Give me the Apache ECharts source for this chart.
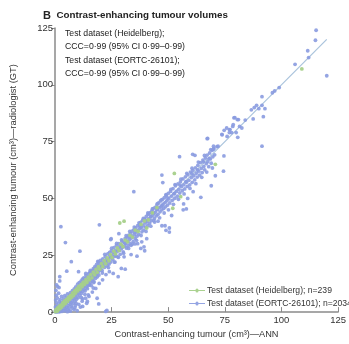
<!DOCTYPE html>
<html><head><meta charset="utf-8">
<script src="https://cdn.jsdelivr.net/npm/echarts@6/dist/echarts.min.js"></script>
<style>html,body{margin:0;padding:0;background:#fff}#c{width:349px;height:344px}</style>
</head><body><div id="c"></div>
<script>
var xTicks = [0, 25, 50, 75, 100, 125];
var yTicks = [0, 25, 50, 75, 100, 125];
var legendNames = ['Test dataset (Heidelberg); n=239', 'Test dataset (EORTC-26101); n=2034'];
var annotationLines = ['Test dataset (Heidelberg);', 'CCC=0·99 (95% CI 0·99–0·99)', 'Test dataset (EORTC-26101);', 'CCC=0·99 (95% CI 0·99–0·99)'];
var identityLine = [[0, 0], [120, 120]];

var eortcBandLow = [[0.3,0.8],[0.5,2.4],[0.6,4.1],[0.8,0.2],[1.0,6.2],[1.1,1.5],[1.3,3.2],[1.4,0.4],[1.6,8.3],[1.7,2.0],[1.9,4.6],[2.0,0.9],[2.2,2.9],[2.3,5.5],[2.5,1.2],[2.6,3.8],[2.8,0.5],[2.9,6.9],[3.1,2.4],[3.2,4.3],[3.4,1.6],[3.5,3.0],[3.7,5.8],[3.8,0.7],[4.0,4.9],[4.1,2.6],[4.3,7.2],[4.4,3.3],[4.6,1.4],[4.7,5.4],[4.9,3.9],[5.0,6.6],[5.2,2.1],[5.3,4.5],[5.5,8.0],[5.6,5.1],[5.8,3.0],[5.9,6.2],[6.1,1.8],[6.2,4.7],[6.4,7.3],[6.5,5.6],[6.7,3.5],[6.8,8.6],[7.0,6.4],[7.1,4.2],[7.3,2.6],[7.4,7.6],[7.6,5.3],[7.7,9.4],[7.9,6.8],[8.0,3.9],[8.2,8.1],[8.3,5.9],[8.5,10.2],[8.6,7.4],[8.8,4.8],[8.9,9.0],[9.1,6.5],[9.2,11.1],[9.4,8.3],[9.5,5.7],[9.7,10.0],[9.8,7.7],[10.0,12.3],[10.1,9.2],[10.3,6.4],[10.4,11.0],[10.6,8.6],[10.7,13.0],[10.9,10.1],[11.0,7.4],[11.2,11.9],[11.3,9.5],[11.5,13.6],[11.6,8.2],[11.8,12.4],[11.9,10.6],[12.1,14.5],[12.2,9.1],[12.4,12.8],[12.5,11.2],[12.7,15.1],[12.8,10.0],[13.0,13.5],[13.1,11.6],[13.3,9.4],[13.4,14.8],[13.6,12.3],[13.7,16.2],[13.9,11.0],[14.0,14.1],[14.2,12.7],[14.3,10.3],[14.5,15.6],[14.6,13.4],[14.8,11.8],[14.9,16.9],[15.1,14.2],[15.2,12.0],[15.4,17.5],[15.5,15.0],[15.7,13.1],[15.8,16.4],[16.0,11.7],[16.1,18.0],[16.3,15.3],[16.4,13.8],[16.6,17.2],[16.7,14.6],[16.9,19.1],[17.0,16.2],[17.2,13.4],[17.3,18.5],[17.5,15.8],[17.6,20.0],[17.8,17.1],[17.9,14.9],[18.1,19.4],[18.2,16.6],[18.4,21.0],[18.5,18.0],[18.7,15.5],[18.8,20.2],[19.0,17.4],[19.1,22.1],[19.3,19.0],[19.4,16.3],[19.6,21.3],[19.7,18.4],[19.9,20.1],[20.0,22.8],
[3.0,0.3],[4.5,0.6],[6.0,0.9],[7.5,1.8],[9.0,2.9],[10.5,3.4],[12.0,4.8],[13.5,6.1],[15.0,6.9],[16.5,8.8],[18.0,10.4],[6.8,0.4],[8.4,1.1],[11.2,2.2],[14.0,3.9],[19.5,12.6],[21.0,14.2],[22.5,16.5],[24.0,17.8],[9.8,0.6],[2.0,0.1],[1.2,0.1],[0.2,0.1],[0.4,0.3],[5.5,0.2],[8.8,1.9],[13.2,7.8],[16.9,10.6],[11.7,6.4],[0.2,2.2],[0.3,5.3],[0.5,7.4],[0.4,9.6],[1.2,11.2]];

var eortcBandMid = [[20.2,19.1],[20.5,21.6],[20.8,18.3],[21.1,23.4],[21.3,20.5],[21.6,22.2],[21.9,19.7],[22.2,24.5],[22.4,21.6],[22.7,23.3],[23.0,20.4],[23.3,25.6],[23.5,22.8],[23.8,21.1],[24.1,26.3],[24.4,23.9],[24.6,22.0],[24.9,27.0],[25.2,24.7],[25.5,23.1],[25.7,26.2],[26.0,28.4],[26.3,24.5],[26.6,27.1],[26.8,25.0],[27.1,29.3],[27.4,26.6],[27.7,24.3],[27.9,28.0],[28.2,30.1],[28.5,27.2],[28.8,25.4],[29.0,29.6],[29.3,27.9],[29.6,31.2],[29.9,28.6],[30.1,26.5],[30.4,30.8],[30.7,29.0],[31.0,32.4],[31.2,30.1],[31.5,28.2],[31.8,33.0],[32.1,31.0],[32.3,29.2],[32.6,33.9],[32.9,31.8],[33.2,30.1],[33.4,34.5],[33.7,32.6],[34.0,35.6],[34.3,33.2],[34.5,31.0],[34.8,36.2],[35.1,34.0],[35.4,32.3],[35.6,37.1],[35.9,35.2],[36.2,33.4],[36.5,38.0],[36.7,35.9],[37.0,34.2],[37.3,38.6],[37.6,36.8],[37.8,39.5],[38.1,37.2],[38.4,35.3],[38.7,40.4],[38.9,38.0],[39.2,36.1],[39.5,41.0],[39.8,39.2],[40.0,37.4],[40.3,42.1],[40.6,39.8],[40.9,38.0],[41.1,43.0],[41.4,41.0],[41.7,39.1],[42.0,43.8],[42.2,41.9],[42.5,40.2],[42.8,44.6],[43.1,42.6],[43.3,45.5],[43.6,43.4],[43.9,41.2],[44.2,46.1],[44.4,44.0],[44.7,42.3],[45.0,47.2],[45.3,45.1],[45.5,43.0],[45.8,48.0],[46.1,46.0],[46.4,44.1],[46.6,48.9],[46.9,46.6],[47.2,45.0],[47.5,49.6],[47.7,47.5],[48.0,45.6],[48.3,50.4],[48.6,48.2],[48.8,46.3],[49.1,51.3],[49.4,49.0],[49.7,47.1],[50.0,52.2]];

var eortcBandExtra = [[15.6,18.4],[17.1,13.0],[18.9,22.3],[20.9,17.2],[22.0,25.4],[23.6,19.6],[25.0,28.1],[26.2,22.0],[27.2,30.2],[28.0,24.1],[29.4,31.8],[30.3,25.9],[31.4,33.6],[32.5,28.0],[33.0,35.5],[34.1,29.9],[35.0,37.4],[36.0,31.6],[37.1,39.3],[38.0,33.7],[39.0,41.2],[40.2,35.5],[41.0,43.6],[42.3,37.8],[43.0,45.4],[44.0,39.6],[45.2,47.7],[46.2,41.5],[47.0,49.4],[48.2,43.6],[49.0,51.7],[50.1,45.0],[51.2,54.0],[52.3,47.4],[53.0,56.1],[54.5,49.6],[55.6,58.5],[57.0,52.0],[58.2,61.0],[59.6,54.4],[60.5,63.3],[62.2,56.5],[63.3,66.0],[64.8,59.3],[66.0,68.9],[67.0,61.6],[68.8,71.5],[69.5,63.4],
[20.7,20.6],[22.9,22.1],[24.2,24.8],[26.4,25.9],[28.6,28.9],[30.9,30.3],[32.8,33.1],[35.2,35.0],[37.5,37.9],[39.9,40.6],[42.4,42.0],[44.9,45.3],[47.3,46.8],[49.8,50.3],[52.7,52.2],[55.2,55.9],[57.8,57.4],[60.4,60.9],[63.0,62.6],[65.5,66.1],[68.0,67.5]];

var eortcBandHigh = [[50.3,49.8],[50.7,48.0],[51.0,53.1],[51.4,51.0],[51.8,49.2],[52.1,54.3],[52.5,52.0],[52.9,50.1],[53.2,55.6],[53.6,53.1],[54.0,51.0],[54.3,56.4],[54.7,54.0],[55.1,52.4],[55.4,57.3],[55.8,55.2],[56.2,53.4],[56.5,58.6],[56.9,56.0],[57.3,54.2],[57.6,59.5],[58.0,57.1],[58.4,55.3],[58.7,60.4],[59.1,58.0],[59.5,56.0],[59.8,61.6],[60.2,59.2],[60.6,57.1],[60.9,62.4],[61.3,60.0],[61.7,58.2],[62.0,63.5],[62.4,61.1],[62.8,59.4],[63.1,64.6],[63.5,62.0],[63.9,60.3],[64.2,65.8],[64.6,63.2],[65.0,61.4],[65.3,66.9],[65.7,64.1],[66.1,62.6],[66.4,67.8],[66.8,65.3],[67.2,69.1],[67.5,66.2],[67.9,64.0],[68.3,70.0],[68.6,67.4],[69.0,65.5],[69.4,71.2],[69.7,68.3],[70.1,72.0],
[70.5,69.2],[71.5,72.8],[70.0,71.6],[72.0,73.0],[70.0,73.0],[73.7,78.2],[73.8,78.0],[74.7,80.0],[75.8,81.0],[76.0,77.3],[77.0,79.0],[77.0,80.3],[77.3,80.3],[78.5,81.7],[78.7,82.5],[79.0,85.5],[79.4,85.6],[80.0,79.0],[80.5,84.7],[80.7,76.9],[81.0,84.7],[81.5,81.7],[82.5,81.0],[84.0,84.5],[86.7,89.0],[87.5,85.0],[88.0,90.0],[89.0,91.0],[90.0,89.5],[91.4,94.8],[91.4,91.0],[92.0,86.0],[92.7,89.5],[96.0,96.5],[97.0,97.3],[99.0,98.8],[106.0,109.0],[111.6,115.0],[112.0,112.0],[115.0,119.6],[115.3,124.0],[120.0,104.0]];

var eortcOutliers = [[2.6,37.6],[19.6,38.4],[4.6,30.6],[11,26.8],[7.2,22.2],[5.2,18],[10.4,17.8],[13.6,17],[2.1,15.6],[2.1,13.7],[1.8,10.8],[15,12.2],[12.4,11.2],[18.6,6.1],[14.3,4.7],[12.2,2.5],[19.3,3.6],[22.9,0.7],[22.4,0.3],[3.6,3.5],[9.3,3.9],[14.7,7.6],[12.1,5.8],[0.7,12],[27.9,15.6],[29.3,19.2],[31,18.9],[26.5,22],[30.5,24.3],[25.7,17],[35.3,30],[38.3,30.9],[39.3,28.7],[28.2,34.5],[24.6,31.9],[24.8,32.3],[33.6,29.4],[36.5,30.1],[37.9,28],[40.5,32.3],[39.6,27],[33.6,25.3],[36.2,24.6],[34.8,53],[47.2,60.3],[47.6,57],[55,68.4],[60.8,69.4],[50.5,37],[48.6,38],[49,36],[50.5,35.2],[47.2,38],[45.5,40],[43.6,40.3],[56.6,45],[56.8,47.6],[58,45.4],[51.5,42.5],[61,53],[58.6,50],[64.4,50.5],[61.8,69],[67.2,76.3],[70.8,60],[69,55.6],[74.4,62],[74.6,68.7],[78,79],[41.5,43.2],[67.4,76.4],[91.4,73]];

var heidelbergBand = [[0.3,0.5],[0.6,1.2],[0.9,0.4],[1.2,1.8],[1.5,1.0],[1.9,2.6],[2.2,1.5],[2.6,3.1],[3.0,2.2],[3.4,4.0],[3.8,3.1],[4.2,4.9],[4.6,3.8],[5.1,5.6],[5.5,4.7],[6.0,6.6],[6.4,5.6],[6.9,7.4],[7.3,6.5],[7.8,8.5],[8.2,7.3],[8.7,9.3],[9.1,8.4],[9.6,10.2],[10.0,9.3],[10.5,11.3],[11.0,10.1],[11.5,12.0],[12.0,11.2],[12.5,13.2],[13.0,12.1],[13.6,14.3],[14.1,13.0],[14.7,15.4],[15.2,14.2],[15.8,16.5],[16.3,15.1],[16.9,17.6],[17.5,16.4],[18.1,18.8],[18.6,17.5],[19.2,20.0],[19.8,18.9],[20.5,21.3],[21.1,20.0],[21.8,22.6],[22.4,21.3],[23.1,23.9],[23.8,22.6],[24.5,25.3],[25.2,24.0],[26.0,26.8],[26.7,25.6],[27.5,28.3],[28.3,27.1],[29.1,29.9],[30.0,28.8],[31.0,31.7],[32.0,30.9],[33.1,33.8],[34.2,33.0],[35.4,36.1],[36.7,35.5],[38.0,38.6],[39.5,40.1],[41.2,40.6],[43.0,43.7],[45.0,46.0],
[0.2,0.2],[0.4,0.8],[0.8,0.9],[1.0,0.6],[1.4,1.6],[2.0,2.3],[2.8,2.6],[4.0,4.3],[5.8,5.9],[7.0,7.1],[9.0,9.4],[11.8,12.3],[13.8,13.6]];

var heidelbergOutliers = [[28.6,39.2],[30.5,40],[52.7,61],[55.5,50.8],[52,45.7],[70.8,65],[109,107],[40.5,37]];

var FONT = '"Liberation Sans", Arial, sans-serif';
var blue = '#8a9be0', green = '#a6d08a';
var icon = 'path://M0,2.5H6.5A1.5,1.5,0,1,1,9.5,2.5H16V3.5H9.5A1.5,1.5,0,1,1,6.5,3.5H0Z';

var chart = echarts.init(document.getElementById('c'));
chart.setOption({
  animation: false,
  title: {
    text: '{b|B}  Contrast-enhancing tumour volumes',
    left: 38, top: 5,
    textStyle: { fontFamily: FONT, fontSize: 9.8, fontWeight: 'bold', color: '#222',
      rich: { b: { fontFamily: FONT, fontSize: 11, fontWeight: 'bold', color: '#222' } } }
  },
  legend: {
    orient: 'vertical', left: 184, top: 281, itemGap: 4,
    itemWidth: 16, itemHeight: 5,
    textStyle: { fontFamily: FONT, fontSize: 8.6, color: '#333', padding: [0, 0, 0, -3] },
    data: [
      { name: legendNames[0], icon: icon, itemStyle: { color: green } },
      { name: legendNames[1], icon: icon, itemStyle: { color: blue } }
    ]
  },
  graphic: [{
    type: 'text', left: 65, top: 27,
    style: { text: annotationLines.join('\n'), font: '8.7px "Liberation Sans", Arial, sans-serif', lineHeight: 13.3, fill: '#222' }
  }],
  grid: { left: 55, right: 3, top: 28, bottom: 30 },
  xAxis: {
    type: 'value', min: xTicks[0], max: xTicks[xTicks.length - 1], interval: 25,
    name: 'Contrast-enhancing tumour (cm³)—ANN', nameLocation: 'middle', nameGap: 16,
    nameTextStyle: { fontFamily: FONT, fontSize: 9.2, color: '#333' },
    axisLine: { lineStyle: { color: '#8a8a8a', width: 1.5 } },
    axisTick: { inside: true, length: 5, lineStyle: { color: '#8a8a8a' } },
    axisLabel: { fontFamily: FONT, fontSize: 9.5, color: '#333', margin: 3 },
    splitLine: { show: false }
  },
  yAxis: {
    type: 'value', min: yTicks[0], max: yTicks[yTicks.length - 1], interval: 25,
    name: 'Contrast-enhancing tumour (cm³)—radiologist (GT)', nameLocation: 'middle', nameGap: 37,
    nameTextStyle: { fontFamily: FONT, fontSize: 9.4, color: '#333' },
    axisLine: { show: true, lineStyle: { color: '#8a8a8a', width: 1.5 } },
    axisTick: { show: true, length: 4, lineStyle: { color: '#8a8a8a' } },
    axisLabel: { fontFamily: FONT, fontSize: 9.5, color: '#333', margin: 2 },
    splitLine: { show: false }
  },
  series: [
    { type: 'line', data: identityLine, symbol: 'none', silent: true,
      lineStyle: { color: '#a9c3dc', width: 1.2 }, z: 1 },
    { name: legendNames[1], type: 'scatter', symbolSize: 3.8,
      data: eortcBandLow.concat(eortcBandMid, eortcBandExtra, eortcBandHigh, eortcOutliers),
      itemStyle: { color: blue, opacity: 0.9 }, z: 2 },
    { name: legendNames[0], type: 'scatter', symbolSize: 3.8,
      data: heidelbergBand.concat(heidelbergOutliers),
      itemStyle: { color: green, opacity: 0.95 }, z: 3 }
  ]
});
</script></body></html>
